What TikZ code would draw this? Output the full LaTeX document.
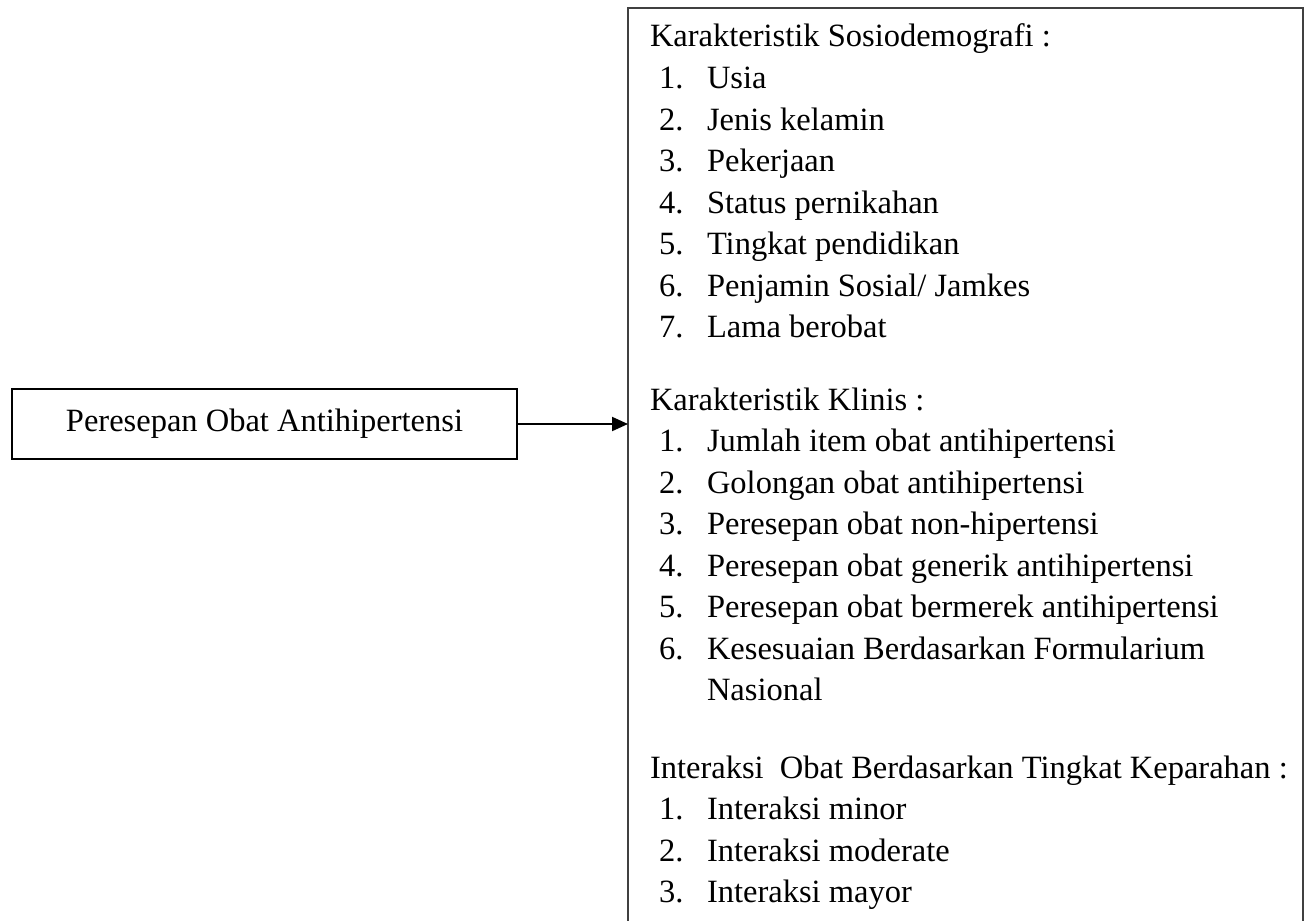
\documentclass[tikz,border=0pt]{standalone}
\usepackage{fontspec}
\setmainfont{Liberation Serif}
\usetikzlibrary{arrows.meta}
\begin{document}
\begin{tikzpicture}[x=0.5pt,y=-0.5pt,
  every node/.style={font=\fontsize{16.25}{20}\selectfont, inner sep=0pt, outer sep=0pt},
  head/.style={anchor=base west},
  num/.style={anchor=base west},
  item/.style={anchor=base west},
  boxL/.style={draw=black, line width=0.9pt, minimum width=252.5pt, minimum height=35pt},
  boxR/.style={draw=black!75, line width=1pt, minimum width=337.5pt, minimum height=480pt, anchor=north west},
  conn/.style={line width=1pt, -{Triangle[length=8pt,width=7pt]}}]
\useasboundingbox (0,0) rectangle (1310,920);

\node[boxL] (lbox) at (264.5,424) {Peresepan Obat Antihipertensi};
\node[boxR] (rbox) at (628,8) {};
\draw[conn] (lbox.east) -- (lbox.east -| rbox.west);

% Section 1
\node[head] (h1) at (650,47) {Karakteristik Sosiodemografi :};
\foreach \i/\t in {1/{Usia},2/{Jenis kelamin},3/{Pekerjaan},4/{Status pernikahan},5/{Tingkat pendidikan},6/{Penjamin Sosial/ Jamkes},7/{Lama berobat}}{
  \node[num] (n1-\i) at (659,{47+41.5*\i}) {\i.};
  \node[item] (t1-\i) at (707,{47+41.5*\i}) {\t};
}

% Section 2
\node[head] (h2) at (650,410) {Karakteristik Klinis :};
\node[num] (n2-1) at (659,451.5) {1.};
\node[item] (t2-1) at (707,451.5) {Jumlah item obat antihipertensi};
\node[num] (n2-2) at (659,493) {2.};
\node[item] (t2-2) at (707,493) {Golongan obat antihipertensi};
\node[num] (n2-3) at (659,534.5) {3.};
\node[item] (t2-3) at (707,534.5) {Peresepan obat non-hipertensi};
\node[num] (n2-4) at (659,576) {4.};
\node[item] (t2-4) at (707,576) {Peresepan obat generik antihipertensi};
\node[num] (n2-5) at (659,617.5) {5.};
\node[item] (t2-5) at (707,617.5) {Peresepan obat bermerek antihipertensi};
\node[num] (n2-6) at (659,659) {6.};
\node[item] (t2-6) at (707,659) {Kesesuaian Berdasarkan Formularium};
\node[item] (t2-6b) at (707,700.5) {Nasional};

% Section 3
\node[head] (h3) at (650,778) {Interaksi\space\space Obat Berdasarkan Tingkat Keparahan :};
\node[num] (n3-1) at (659,819.5) {1.};
\node[item] (t3-1) at (707,819.5) {Interaksi minor};
\node[num] (n3-2) at (659,861) {2.};
\node[item] (t3-2) at (707,861) {Interaksi moderate};
\node[num] (n3-3) at (659,902.5) {3.};
\node[item] (t3-3) at (707,902.5) {Interaksi mayor};
\end{tikzpicture}
\end{document}
